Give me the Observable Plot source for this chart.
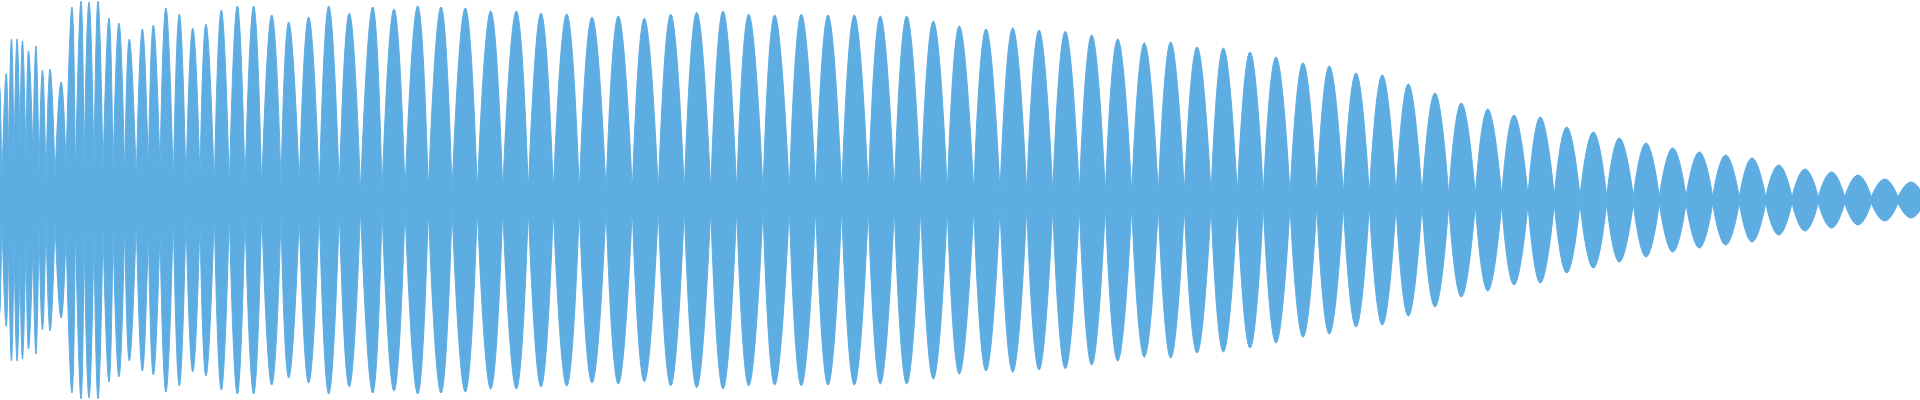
<!DOCTYPE html>
<html><head><meta charset="utf-8">
<script src="https://cdn.jsdelivr.net/npm/d3@7"></script>
<script src="https://cdn.jsdelivr.net/npm/@observablehq/plot@0.6"></script>
<style>html,body{margin:0;padding:0;background:#fff;overflow:hidden}</style>
</head><body><div id="chart"></div>
<script>
// Waveform envelope: one lobe between each pair of pinch points
const pinchX = [-3, 1.7, 8.5, 14, 20, 26, 33, 39, 46, 55, 66, 75.3, 84, 94, 103, 113, 124.7, 136.3, 148.3, 160, 173.3, 186, 200, 214.3, 229.3, 245, 261.7, 281, 299.3, 319.3, 339.3, 360.5, 382, 405, 428.3, 452, 477.3, 502.7, 528.3, 553.3, 579.3, 606, 632.3, 658.3, 684.3, 710.7, 736.7, 763, 789.3, 815.7, 841.7, 868.3, 894.3, 920.7, 947.3, 973.7, 1000, 1026.7, 1052.7, 1079.3, 1105.3, 1131.7, 1158.3, 1184.3, 1211, 1237.3, 1263.3, 1290, 1316.7, 1343.3, 1369.3, 1396, 1422, 1448.7, 1475.3, 1501.7, 1528, 1554.3, 1580, 1606.7, 1633.3, 1659.3, 1686, 1712.7, 1739.3, 1765.7, 1792, 1818.3, 1844.7, 1871.3, 1898, 1924];
const neckAmp = [8, 8, 38, 32, 47, 33, 42, 22, 12, 21, 30, 21, 27, 27, 27, 24, 18, 18, 25, 28, 13, 13, 18, 12, 12, 13, 8, 15, 15, 8, 10, 8, 8, 8, 8, 8, 8, 8, 8, 8, 8, 8, 8, 8, 8, 8, 8, 8, 8, 8, 8, 8, 8, 8, 8, 8, 7.5, 7.5, 7.5, 7, 6.5, 6.5, 6, 6, 6, 6, 6, 5.5, 5.5, 5, 5, 5, 5, 4.5, 4.5, 4.5, 4.5, 4, 4, 3.5, 3.5, 3.5, 3.5, 3.5, 3, 3, 3, 3, 3, 3, 3, 3];
const peakX = [-0.3, 6, 11.5, 17, 22.5, 28.5, 36, 42.5, 50, 61, 72, 81, 89, 98, 109, 119, 129.3, 142.3, 153.3, 166, 179.3, 192.7, 206, 221.3, 237.3, 253.7, 271.7, 288.7, 308.7, 328.7, 349.3, 372.7, 394, 417.7, 441, 465.3, 490.7, 516.3, 541, 566.7, 592, 618.3, 644.3, 670.7, 696.7, 723, 748.7, 774.7, 801.3, 828, 854.3, 880.3, 906.7, 933.3, 959.3, 986, 1012.7, 1039, 1065.3, 1091.7, 1117.7, 1144.3, 1170.7, 1197, 1223.3, 1250, 1276, 1303, 1329.3, 1356, 1382.3, 1408.3, 1435, 1461.3, 1487.7, 1514, 1540.3, 1566.7, 1593.3, 1619.3, 1646, 1672.7, 1699.3, 1725.7, 1752, 1778.7, 1805, 1831.5, 1858, 1884.7, 1911];
const peakAmp = [113, 126, 161, 161, 159, 149, 154, 130, 131, 118, 193, 199, 198, 199, 182, 177, 161, 171, 175, 192, 186, 172, 176, 190, 194, 194, 185, 178, 183, 194, 186.7, 193, 191, 194, 193, 192, 189, 189, 187, 186, 183, 184, 181.7, 185.7, 187.7, 189, 185.7, 185, 185.7, 185, 185, 184, 184, 179, 174, 171, 172, 170, 168.7, 165, 161, 157, 158, 153, 152, 148, 143, 137.3, 134, 127, 125, 116, 107, 97, 91, 85, 83, 73, 68, 62, 57, 52, 48, 45, 42, 35, 31, 28, 25, 21, 18];

const rows = [];
peakX.forEach((px, i) => {
  rows.push({lobe: i, x: pinchX[i], a: neckAmp[i]});
  rows.push({lobe: i, x: px, a: peakAmp[i]});
  rows.push({lobe: i, x: pinchX[i + 1], a: neckAmp[i + 1]});
});

const chart = Plot.plot({
  width: 1920,
  height: 400,
  margin: 0,
  x: {domain: [0, 1920], axis: null},
  y: {domain: [-200, 200], axis: null},
  marks: [
    Plot.areaY(rows, {
      x: "x", y1: d => -d.a, y2: d => d.a, z: "lobe",
      curve: "cardinal", tension: -0.5,
      fill: "#5dade2", stroke: "#5dade2", strokeWidth: 1, clip: true
    })
  ]
});
document.getElementById("chart").append(chart);
</script></body></html>
